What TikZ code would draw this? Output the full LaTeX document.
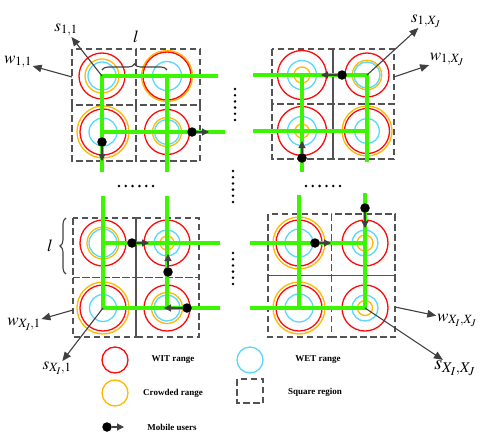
\documentclass[tikz,border=0pt]{standalone}
\usepackage{mathptmx}
\usepackage[no-math]{fontspec}
\setmainfont{Liberation Serif}
\usetikzlibrary{arrows.meta,decorations.pathreplacing}

\definecolor{witred}{RGB}{255,10,10}
\definecolor{crowdorange}{RGB}{255,185,0}
\definecolor{wetcyan}{RGB}{90,215,255}
\definecolor{roadgreen}{RGB}{60,245,0}
\definecolor{arrowgray}{RGB}{64,64,64}

\tikzset{
  region/.style={draw=arrowgray!90, dash pattern=on 6.5pt off 3.5pt, line width=1.2pt},
  road/.style={roadgreen, line width=3.6pt, line cap=rect},
  userdot/.style={circle, fill=black, inner sep=0pt, minimum size=9.5pt},
  user/.style={arrowgray, line width=1.1pt, -{Triangle[length=7pt,width=7pt]}},
  pointer/.style={arrowgray, line width=1.1pt, -{Triangle[length=9pt,width=7.5pt]}},
  lab/.style={inner sep=0.5pt, font=\fontsize{17}{19}\selectfont},
  legtext/.style={font=\fontsize{9}{11}\selectfont\bfseries},
  bracegray/.style={arrowgray, line width=1.1pt, decorate, decoration={brace, amplitude=6pt}},
}

\begin{document}
\begin{tikzpicture}[x=1pt,y=-1pt]
\useasboundingbox (0,0) rectangle (485,434);

% square regions
\foreach \x/\y/\w/\h in {72/49/64/56, 272/49/61/55, 73/218/63/59.5, 268/214/63.5/61.5}
  \foreach \i in {0,1}
    \foreach \j in {0,1}
      \draw[region] (\x+\i*\w,\y+\j*\h) rectangle ++(\w,\h);

% WIT / crowded / WET ranges
\foreach \n/\x/\y/\r/\o/\c in {tl11/102/76/23/17/14, tl12/167/76/24/25.5/14.5,
    tl21/103/132/23/26/14, tl22/167/132/22.5/14.5/12.5,
    tr11/302/75/24.5/8/14.5, tr12/367/75/22/14.7/13,
    tr21/302/131/24.5/7/14.5, tr22/367/131/22.5/25/12.5,
    bl11/103/243/23/16/14, bl12/167/243/23/7/13,
    bl21/103/308/23/26/13.5, bl22/167/308/23/15.5/13,
    br11/299/243/23/26/14, br12/365/243/23/8/13,
    br21/299/308/23/26/14, br22/365/308/23/7.5/13} {
  \coordinate (\n) at (\x,\y);
  \draw[crowdorange, line width=1.3pt] (\n) circle (\o pt);
  \draw[witred, line width=1.3pt] (\n) circle (\r pt);
  \draw[wetcyan, line width=1.3pt] (\n) circle (\c pt);
}

\foreach \a/\b in {{102,76}/{216,76}, {102,132}/{223,132}, {102,76}/{102,170}, {167,76}/{167,170},
    {255,75}/{367,75}, {255,131}/{367,131}, {302,75}/{302,170}, {367,75}/{367,160},
    {103,198}/{103,308}, {167,198}/{167,308}, {103,243}/{218,243}, {103,308}/{218,308},
    {299,197}/{299,308}, {365,195}/{365,308}, {252,243}/{365,243}, {252,308}/{365,308}}
  \draw[road] (\a) -- (\b);

% mobile users
\foreach \n/\a/\b in {u1/{192,132}/{209,132}, u2/{102,142}/{102,161}, u3/{342,75}/{321,75},
    u4/{302,158}/{302,141}, u5/{132,243}/{149,243}, u6/{168,272}/{168,254},
    u7/{187,308}/{164,308}, u8/{315,243}/{331,243}, u9/{365,208}/{365,228}} {
  \node[userdot] (\n) at (\a) {};
  \coordinate (\n end) at (\b);
  \draw[user] (\n) -- (\n end);
}

% dots
\foreach \k in {0,...,5} {
  \fill (119+\k*6.8,186) circle (1.4pt);
  \fill (306+\k*6.8,186) circle (1.4pt);
  \fill (235,89+\k*6.2) circle (1.4pt);
  \fill (233,171+\k*6.2) circle (1.4pt);
  \fill (233,253+\k*6.2) circle (1.4pt);
}

% side length l
\draw[bracegray] ([yshift=6pt]tl11) -- ([yshift=6pt]tl12);
\node[lab] (ltop) at (136,37) {$l$};
\draw[bracegray] (66,274) -- (66,218);
\node[lab] (lleft) at (50,246) {$l$};

% labels of squares and stations
\node[lab] (s11) at (66,30) {$s_{1,1}$};
\node[lab] (w11) at (18,62) {$w_{1,1}$};
\node[lab] (s1XJ) at (426,21) {$s_{1,X_J}$};
\node[lab] (w1XJ) at (447,59) {$w_{1,X_J}$};
\node[lab] (wXI1) at (24,324) {$w_{X_I,1}$};
\node[lab] (sXI1) at (57,368) {$s_{X_I,1}$};
\node[lab] (wXIXJ) at (457,320) {$w_{X_I,X_J}$};
\node[lab, font=\fontsize{20}{22}\selectfont] (sXIXJ) at (455,368) {$s_{X_I,X_J}$};

\coordinate (w11from) at (72,77);
\coordinate (w1XJfrom) at (394,77);
\coordinate (wXI1from) at (73,310);
\coordinate (wXIXJfrom) at (395,307);

\draw[pointer] (tl11) -- (s11);
\draw[pointer] (w11from) -- (w11);
\draw[pointer] (tr12) -- (s1XJ);
\draw[pointer] (w1XJfrom) -- (w1XJ);
\draw[pointer] (wXI1from) -- (wXI1);
\draw[pointer] (bl21) -- (sXI1);
\draw[pointer] (wXIXJfrom) -- (wXIXJ);
\draw[pointer] (br22) -- (sXIXJ);

% legend
\draw[witred, line width=1.3pt] (115,360) circle (13pt);
\node[legtext] (witlab) at (173,360) {WIT range};
\draw[wetcyan, line width=1.3pt] (250,360) circle (13pt);
\node[legtext] (wetlab) at (318,360) {WET range};
\draw[crowdorange, line width=1.3pt] (115,393) circle (13pt);
\node[legtext] (crowdlab) at (173,393) {Crowded range};
\draw[region] (237,379) rectangle (263,403);
\node[legtext] (sqlab) at (315,392) {Square region};
\node[userdot] (uleg) at (107,427) {};
\coordinate (ulegend) at (124,427);
\draw[user] (uleg) -- (ulegend);
\node[legtext] (userlab) at (172,427) {Mobile users};

\end{tikzpicture}
\end{document}
